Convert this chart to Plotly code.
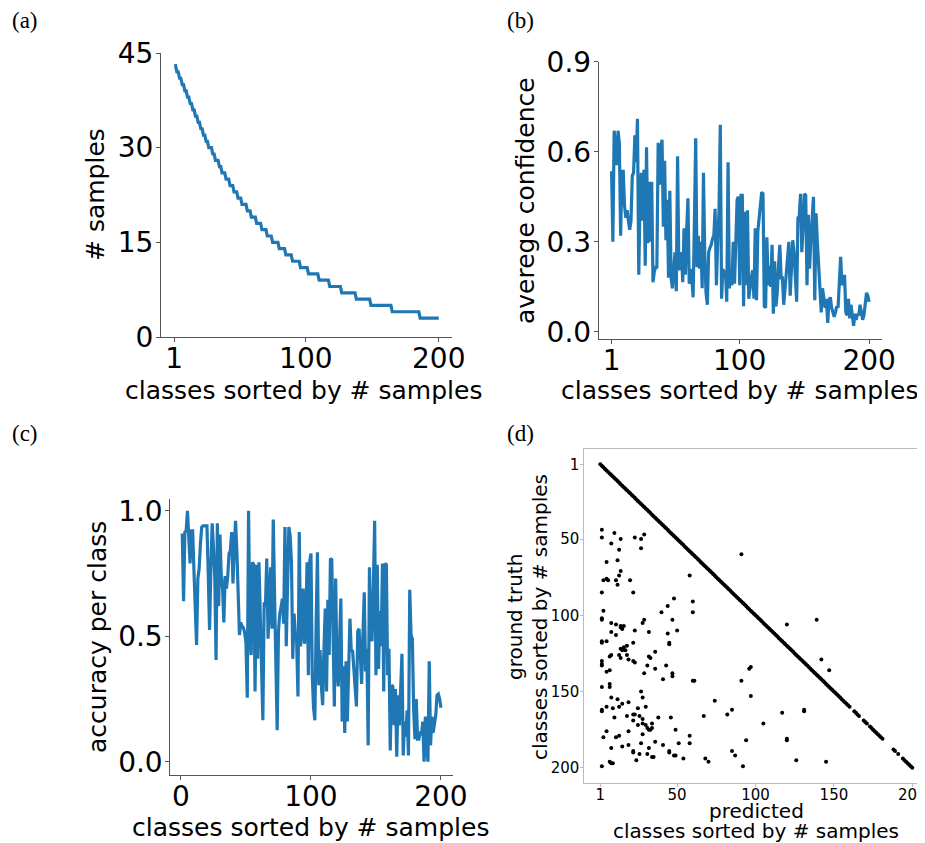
import plotly.graph_objects as go

# page is offset by the browser's 8px body margin; figure spans page px 8..925 / 8..843
OFF = 8
FW, FH = 925 - OFF, 843 - OFF

# ---------------- data ----------------
classes = list(range(1, 201))

# (a) number of samples per class (sorted)
n_samples = (
    [43]*2 + [42]*2 + [41]*2 + [40]*2 + [39]*2 + [38]*2 + [37]*2 + [36]*2 + [35]*2 +
    [34]*2 + [33]*2 + [32]*2 + [31]*2 + [30]*3 + [29]*2 + [28]*3 + [27]*2 + [26]*3 +
    [25]*3 + [24]*3 + [23]*3 + [22]*3 + [21]*4 + [20]*3 + [19]*4 + [18]*4 + [17]*4 +
    [16]*4 + [15]*5 + [14]*5 + [13]*5 + [12]*6 + [11]*6 + [10]*8 + [9]*8 + [8]*9 +
    [7]*11 + [6]*11 + [5]*16 + [4]*21 + [3]*15
)

# (b) average confidence per class
avg_conf = [
    0.535, 0.30, 0.67, 0.60, 0.555, 0.67, 0.63, 0.32, 0.535, 0.535,
    0.42, 0.38, 0.405, 0.37, 0.34, 0.37, 0.52, 0.53, 0.655, 0.565,
    0.71, 0.19, 0.44, 0.53, 0.37, 0.54, 0.22, 0.615, 0.295, 0.50,
    0.30, 0.50, 0.165, 0.20, 0.215, 0.215, 0.63, 0.49, 0.605, 0.64,
    0.35, 0.57, 0.305, 0.44, 0.18, 0.47, 0.18, 0.145, 0.20, 0.265,
    0.135, 0.585, 0.205, 0.25, 0.265, 0.165, 0.345, 0.19, 0.335, 0.445,
    0.16, 0.21, 0.18, 0.115, 0.365, 0.645, 0.215, 0.32, 0.21, 0.30,
    0.145, 0.53, 0.255, 0.13, 0.09, 0.265, 0.28, 0.29, 0.31, 0.32,
    0.41, 0.155, 0.30, 0.40, 0.69, 0.11, 0.21, 0.18, 0.205, 0.10,
    0.565, 0.145, 0.20, 0.155, 0.30, 0.16, 0.30, 0.44, 0.45, 0.155,
    0.455, 0.455, 0.085, 0.40, 0.155, 0.405, 0.11, 0.155, 0.18, 0.205,
    0.11, 0.345, 0.105, 0.335, 0.385, 0.42, 0.465, 0.46, 0.085, 0.08,
    0.315, 0.155, 0.22, 0.15, 0.29, 0.06, 0.235, 0.085, 0.13, 0.22,
    0.29, 0.18, 0.18, 0.09, 0.14, 0.20, 0.25, 0.30, 0.12, 0.235,
    0.305, 0.265, 0.18, 0.10, 0.38, 0.385, 0.46, 0.265, 0.35, 0.46,
    0.455, 0.155, 0.39, 0.21, 0.31, 0.38, 0.45, 0.105, 0.395, 0.30,
    0.22, 0.155, 0.065, 0.145, 0.10, 0.08, 0.11, 0.03, 0.105, 0.115,
    0.08, 0.06, 0.05, 0.065, 0.085, 0.08, 0.18, 0.25, 0.155, 0.17,
    0.19, 0.065, 0.055, 0.11, 0.045, 0.09, 0.05, 0.02, 0.06, 0.04,
    0.06, 0.055, 0.09, 0.06, 0.04, 0.055, 0.09, 0.13, 0.12, 0.10,
]

# (c) accuracy per class
acc = [
    0.91, 0.64, 0.915, 0.92, 1.0, 0.915, 0.79, 0.92, 0.92, 0.76,
    0.60, 0.465, 0.73, 0.77, 0.87, 0.935, 0.94, 0.94, 0.94, 0.94,
    0.745, 0.525, 0.77, 0.95, 0.85, 0.74, 0.405, 0.95, 0.62, 0.905,
    0.74, 0.69, 0.555, 0.74, 0.69, 0.74, 0.83, 0.84, 0.915, 0.71,
    0.85, 0.96, 0.84, 0.69, 0.505, 0.555, 0.54, 0.535, 0.515, 0.475,
    0.255, 1.0, 0.53, 0.425, 0.795, 0.785, 0.28, 0.785, 0.41, 0.795,
    0.555, 0.30, 0.165, 0.635, 0.62, 0.81, 0.49, 0.635, 0.775, 0.53,
    0.965, 0.665, 0.425, 0.125, 0.52, 0.59, 0.615, 0.65, 0.55, 0.935,
    0.46, 0.70, 0.935, 0.90, 0.795, 0.41, 0.59, 0.505, 0.48, 0.26,
    0.915, 0.46, 0.53, 0.69, 0.47, 0.53, 0.795, 0.345, 0.795, 0.83,
    0.345, 0.215, 0.165, 0.55, 0.835, 0.305, 0.445, 0.305, 0.225, 0.45,
    0.61, 0.28, 0.645, 0.425, 0.81, 0.805, 0.49, 0.22, 0.73, 0.37,
    0.30, 0.44, 0.65, 0.16, 0.38, 0.115, 0.40, 0.16, 0.35, 0.57,
    0.44, 0.445, 0.37, 0.31, 0.22, 0.52, 0.53, 0.42, 0.31, 0.505,
    0.675, 0.36, 0.45, 0.065, 0.775, 0.52, 0.48, 0.70, 0.96, 0.345,
    0.785, 0.37, 0.60, 0.46, 0.79, 0.28, 0.79, 0.785, 0.345, 0.45,
    0.045, 0.305, 0.30, 0.145, 0.29, 0.02, 0.265, 0.145, 0.30, 0.43,
    0.025, 0.16, 0.10, 0.205, 0.025, 0.685, 0.505, 0.49, 0.21, 0.09,
    0.25, 0.09, 0.09, 0.12, 0.105, 0.16, 0.0, 0.18, 0.055, 0.0,
    0.40, 0.065, 0.18, 0.115, 0.15, 0.185, 0.265, 0.27, 0.25, 0.215,
]

# (d) confusion scatter: diagonal classes with no correct prediction
diag_missing = [161, 162, 167, 168, 172, 182, 183, 184, 185, 186, 187, 190, 192, 193]
off_points = [
    (2,44),(2,49),(10,46),(14,50),(8,53),(23,49),(27,50),(29,47),(27,56),(13,57),(12,64),(5,65),
    (91,60),(14,71),(13,74),(3,77),(5,76),(6,77),(11,77),(20,77),(12,80),(58,74),(2,85),(22,85),
    (48,89),(44,94),(60,91),(40,98),(60,98),(3,97),(2,102),(2,103),(47,103),(29,103),(28,105),
    (8,105),(14,107),(16,107),(15,109),(14,108),(11,106),(23,110),(32,111),(50,110),(44,112),
    (8,111),(11,113),(120,106),(139,103),(2,117),(2,118),(5,117),(22,118),(45,118),(45,119),
    (18,120),(16,121),(15,123),(14,122),(17,123),(13,126),(18,126),(8,126),(7,127),(14,128),
    (19,129),(32,127),(33,128),(36,124),(22,130),(23,131),(2,130),(2,132),(2,133),(7,136),
    (5,137),(31,133),(43,133),(36,135),(29,138),(47,138),(47,140),(41,142),(60,143),(61,143),
    (91,143),(96,135),(97,134),(142,129),(147,136),(2,147),(7,145),(7,147),(27,150),(28,154),
    (8,154),(12,155),(97,153),(74,156),(15,158),(19,157),(5,160),(9,161),(13,160),(30,160),
    (2,162),(2,163),(25,161),(23,165),(22,165),(18,166),(10,167),(26,166),(38,167),(46,167),
    (67,166),(82,165),(85,162),(117,164),(131,162),(131,163),(22,169),(28,168),(25,172),
    (28,171),(30,172),(31,174),(32,175),(33,175),(34,174),(34,171),(105,171),(5,176),(19,176),
    (49,175),(28,178),(3,180),(11,180),(13,179),(58,179),(94,182),(120,181),(120,182),(36,183),
    (27,184),(41,185),(51,184),(58,184),(19,185),(15,186),(8,187),(32,187),(22,189),(22,190),
    (26,191),(31,191),(34,193),(35,193),(45,189),(45,190),(48,192),(49,192),(24,195),(7,196),
    (8,197),(9,197),(2,199),(54,194),(68,194),(70,196),(85,189),(87,192),(92,199),(126,195),
    (145,196),
]

# ---------------- helpers (page pixel -> paper fraction) ----------------
def X(px):
    return (px - OFF) / FW

def Y(py):
    return 1 - (py - OFF) / FH

BLUE = "#1f77b4"
FONT = "DejaVu Sans"
SPINE = "#555555"

diag = [c for c in classes if c not in diag_missing]
off_pred = [p for p, t in off_points]
off_true = [t for p, t in off_points]

fig = go.Figure()
fig.add_trace(go.Scatter(x=classes, y=n_samples, mode="lines",
                         line=dict(color=BLUE, width=3.2), xaxis="x", yaxis="y"))
fig.add_trace(go.Scatter(x=classes, y=avg_conf, mode="lines",
                         line=dict(color=BLUE, width=3.2), xaxis="x2", yaxis="y2"))
fig.add_trace(go.Scatter(x=classes, y=acc, mode="lines",
                         line=dict(color=BLUE, width=3.2), xaxis="x3", yaxis="y3"))
fig.add_trace(go.Scatter(x=diag, y=diag, mode="markers",
                         marker=dict(color="black", size=4), xaxis="x4", yaxis="y4"))
fig.add_trace(go.Scatter(x=off_pred, y=off_true, mode="markers",
                         marker=dict(color="black", size=4), xaxis="x4", yaxis="y4"))

def ax(domain, rng, tickvals, ticktext=None, size=28, color=SPINE, anchor=None,
       mirror=False, ticklen=4, standoff=0):
    d = dict(domain=domain, range=rng, tickvals=tickvals, showline=True, linecolor=color,
             linewidth=1, ticks="outside", ticklen=ticklen, tickcolor=color, tickwidth=1,
             showgrid=False, zeroline=False, mirror=mirror, automargin=False,
             ticklabelstandoff=standoff, ticklabeloverflow="allow",
             tickfont=dict(family=FONT, size=size, color="black"))
    if ticktext is not None:
        d["ticktext"] = ticktext
    if anchor:
        d["anchor"] = anchor
    return d

layout = dict(
    width=FW, height=FH, margin=dict(l=0, r=0, t=0, b=0, pad=0, autoexpand=False),
    paper_bgcolor="white", plot_bgcolor="white", showlegend=False,
    xaxis=ax([X(161), X(452)], [-8.95, 209.95], [1, 100, 200], anchor="y", standoff=-8),
    yaxis=ax([Y(337), Y(53)], [0, 45], [0, 15, 30, 45], anchor="x", standoff=-3),
    xaxis2=ax([X(598.7), X(882)], [-8.95, 209.95], [1, 100, 200], anchor="y2", standoff=-8),
    yaxis2=ax([Y(339), Y(61.7)], [-0.024, 0.9], [0, 0.3, 0.6, 0.9],
              ["0.0", "0.3", "0.6", "0.9"], anchor="x2", standoff=-3),
    xaxis3=ax([X(170.3), X(453.3)], [-8.2, 209.5], [0, 100, 200], anchor="y3", standoff=-8),
    yaxis3=ax([Y(775), Y(499)], [-0.053, 1.047], [0, 0.5, 1.0],
              ["0.0", "0.5", "1.0"], anchor="x3", standoff=-3),
    xaxis4=ax([X(584.3), 1.0], [-9.2, 208.1], [1, 50, 100, 150, 200], size=15,
              color="#bbbbbb", anchor="y4", mirror=True, ticklen=3, standoff=-5),
    yaxis4=ax([Y(782.7), Y(449.3)], [209.8, -8.84], [1, 50, 100, 150, 200], size=15,
              color="#bbbbbb", anchor="x4", ticklen=3, standoff=-2),
)
fig.update_layout(**layout)

def title(text, cx, cy, size=25, angle=0):
    fig.add_annotation(text=text, x=X(cx), y=Y(cy), xref="paper", yref="paper",
                       showarrow=False, textangle=angle, xanchor="center", yanchor="middle",
                       borderpad=0, font=dict(family=FONT, size=size, color="black"))

xt = "classes sorted by # samples"
title(xt, 303, 390)
title("# samples", 95, 195, angle=-90)
title(xt, 739, 390)
title("averege confidence", 525, 201, angle=-90)
title(xt, 310, 827)
title("accuracy per class", 97, 637, angle=-90)
title("predicted", 756, 811, size=20)
title(xt, 756, 831, size=20)
title("ground truth", 515, 617, size=20, angle=-90)
title(xt, 540, 617, size=20, angle=-90)

for lab, cx, cy in [("(a)", 25, 21), ("(b)", 520, 21), ("(c)", 25, 433), ("(d)", 520, 433)]:
    fig.add_annotation(text=lab, x=X(cx), y=Y(cy), xref="paper", yref="paper",
                       showarrow=False, xanchor="center", yanchor="middle",
                       font=dict(family="Liberation Serif", size=23, color="black"))

fig.write_html("out.html")
